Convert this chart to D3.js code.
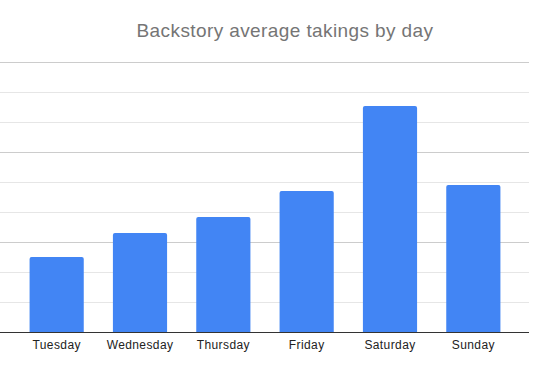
<!DOCTYPE html>
<html>
<head>
<meta charset="utf-8">
<script src="https://cdn.jsdelivr.net/npm/d3@7"></script>
<style>
  body { margin: 0; background: #fff; }
  svg { display: block; font-family: "Liberation Sans", Arial, sans-serif; }
</style>
</head>
<body>
<script>
// data (no axis labels, so units are gridline steps)
const days = ['Tuesday', 'Wednesday', 'Thursday', 'Friday', 'Saturday', 'Sunday']
const takings = [2.5, 3.3, 3.83, 4.7, 7.53, 4.9]
const gridTicks = [0, 1, 2, 3, 4, 5, 6, 7, 8, 9]

const w = 548
const h = 371

const svg = d3.select('body')
    .append('svg')
    .attr('width', w)
    .attr('height', h)

// scales
const xScale = d3.scaleBand()
    .domain(days)
    .range([15, 515])
    .paddingInner(0.35)
    .paddingOuter(0.175)

const yScale = d3.scaleLinear()
    .domain([0, 9])
    .range([332, 62])

// title
svg.append('text')
    .attr('x', 285)
    .attr('y', 37)
    .attr('text-anchor', 'middle')
    .style('font-size', '19px')
    .style('letter-spacing', '0.4px')
    .style('fill', '#757575')
    .text('Backstory average takings by day')

// gridlines (every 3rd one a bit darker)
svg.append('g')
    .selectAll('line')
    .data(gridTicks.filter(d => d > 0))
    .enter()
    .append('line')
    .attr('x1', 0)
    .attr('x2', 529)
    .attr('y1', d => Math.round(yScale(d)) + 0.5)
    .attr('y2', d => Math.round(yScale(d)) + 0.5)
    .style('stroke', d => d % 3 === 0 ? '#cccccc' : '#e6e6e6')
    .style('stroke-width', 1)

// bars with slightly rounded tops
const r = 2
svg.append('g')
    .selectAll('path')
    .data(days)
    .enter()
    .append('path')
    .attr('d', (d, i) => {
        const x0 = xScale(d)
        const x1 = x0 + xScale.bandwidth()
        const y0 = yScale(takings[i])
        const yb = yScale(0)
        return `M${x0},${yb}V${y0 + r}Q${x0},${y0} ${x0 + r},${y0}H${x1 - r}Q${x1},${y0} ${x1},${y0 + r}V${yb}Z`
    })
    .style('fill', '#4285f4')

// baseline
svg.append('line')
    .attr('x1', 0)
    .attr('x2', 529)
    .attr('y1', yScale(0) + 0.5)
    .attr('y2', yScale(0) + 0.5)
    .style('stroke', '#333333')
    .style('stroke-width', 1)

// x axis labels
const xAxis = d3.axisBottom(xScale).tickSize(0).tickPadding(0)
const gx = svg.append('g')
    .attr('transform', `translate(0,${yScale(0)})`)
    .call(xAxis)
gx.select('.domain').remove()
gx.selectAll('text')
    .attr('y', 17)
    .attr('dy', null)
    .style('font-size', '12px')
    .style('letter-spacing', '0.4px')
    .style('font-family', '"Liberation Sans", Arial, sans-serif')
    .style('fill', '#222222')
</script>
</body>
</html>
